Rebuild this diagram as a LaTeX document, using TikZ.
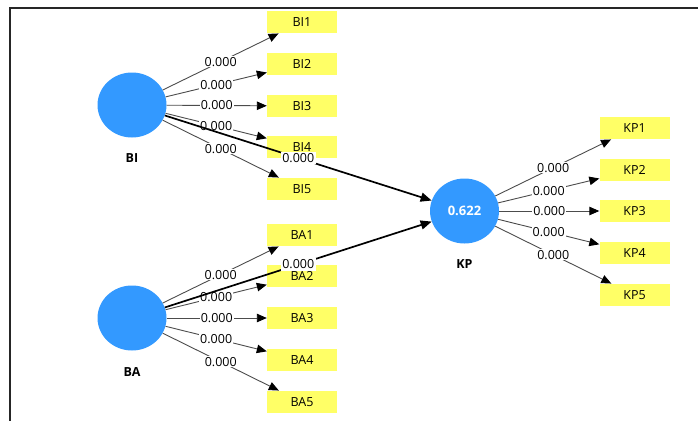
\documentclass[tikz,border=0pt]{standalone}
\usepackage{fontspec}
\setmainfont{Open Sans}
\usetikzlibrary{arrows.meta,shapes.geometric}

\definecolor{constructblue}{HTML}{3399FF}
\definecolor{itemyellow}{HTML}{FFFF66}

\tikzset{%
        latent/.style={
            ellipse,
            fill=constructblue,
            minimum width=69pt,
            minimum height=65pt,
            inner sep=0pt
        },
        latent name/.style={
            font=\fontsize{12.5}{14}\selectfont\bfseries
        },
        indicator/.style={
            rectangle,
            fill=itemyellow,
            minimum width=70pt,
            minimum height=22.5pt,
            inner sep=0pt,
            font=\fontsize{12.5}{14}\selectfont
        },
        loading/.style={
            midway,
            fill=white,
            inner sep=1pt,
            font=\fontsize{12.5}{14}\selectfont
        },
        itemarrow/.style={
            draw=black!70,
            line width=0.9pt,
            -{Triangle[length=10pt,width=8.5pt,color=black]}
        },
        patharrow/.style={
            draw=black,
            line width=1.7pt,
            -{Triangle[length=11pt,width=9pt]}
        },
    }

\begin{document}
\begin{tikzpicture}[x=1pt, y=-1pt]

        \useasboundingbox (0,0) rectangle (698,421);
        \draw [black!85, line width=1.6pt] (698,8) -- (10,8) -- (10,421);

        \node [latent] (BI) at (132,105) {};
        \node [latent] (BA) at (132,318) {};
        \node [latent, text=white, font=\fontsize{13}{15}\selectfont\bfseries] (KP) at (464.5,211) {0.622};

        \node [latent name] (BI-name) at (132,158) {BI};
        \node [latent name] (BA-name) at (132,372) {BA};
        \node [latent name] (KP-name) at (464.5,264) {KP};

        \foreach \i/\y in {1/22,2/64,3/106,4/147,5/189}
        \node [indicator] (BI\i) at (302,\y) {BI\i};

        \foreach \i/\y in {1/235,2/276,3/318,4/360,5/402}
        \node [indicator] (BA\i) at (302,\y) {BA\i};

        \foreach \i/\y in {1/128,2/170,3/211,4/253,5/295}
        \node [indicator] (KP\i) at (634.5,\y) {KP\i};

        \foreach \c in {BI,BA,KP}
        \foreach \i in {1,...,5}
            \draw [itemarrow] (\c) -- (\c\i)
                node [loading] {0.000};

        \foreach \c in {BI,BA}
            \draw [patharrow] (\c) -- (KP)
                node [loading, inner sep=1.5pt] {0.000};

\end{tikzpicture}
\end{document}
